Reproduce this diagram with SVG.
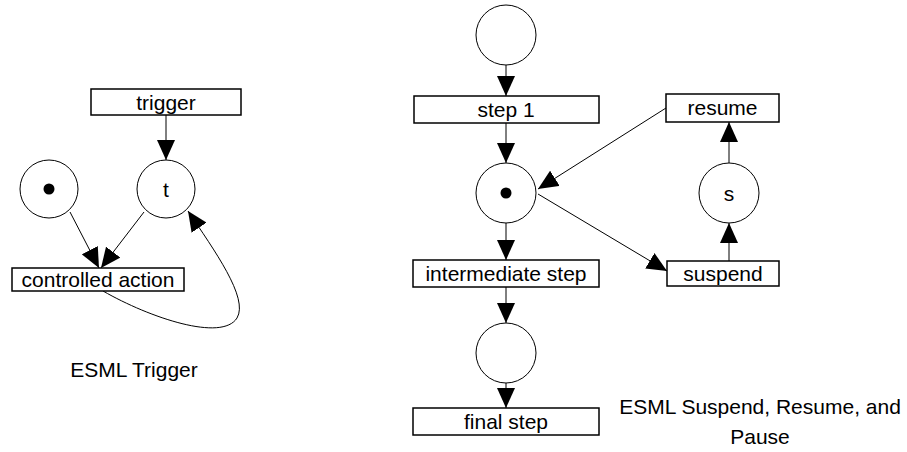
<svg xmlns="http://www.w3.org/2000/svg" width="907" height="452" viewBox="0 0 907 452">
<defs>
<style>
.box{fill:#fff;stroke:#000;stroke-width:1.5}
.place{fill:#fff;stroke:#000;stroke-width:1}
.tok{fill:#000}
.lbl{font-family:"Liberation Sans",Arial,sans-serif;font-size:21px;fill:#000;text-anchor:middle}
.edge{fill:none;stroke:#000;stroke-width:1;marker-end:url(#ah)}
</style>
<marker id="ah" markerUnits="userSpaceOnUse" viewBox="0 0 20 18" refX="20" refY="9" markerWidth="20" markerHeight="18" orient="auto">
<path d="M0,0 L20,9 L0,18 Z" fill="#000"/>
</marker>
</defs>
<rect width="907" height="452" fill="#fff"/>
<g id="connectors">
<line class="edge" x1="166" y1="115" x2="166" y2="160"/>
<line class="edge" x1="70" y1="212" x2="99" y2="268"/>
<line class="edge" x1="144" y1="212" x2="101" y2="268"/>
<path class="edge" d="M103,291 C150,318 222,342 237,318 C249,298 214,250 188,211"/>
<line class="edge" x1="506" y1="65" x2="506" y2="96"/>
<line class="edge" x1="506" y1="123" x2="506" y2="163"/>
<line class="edge" x1="666" y1="108" x2="538" y2="189"/>
<line class="edge" x1="538" y1="194" x2="667" y2="271"/>
<line class="edge" x1="506" y1="223" x2="506" y2="260"/>
<line class="edge" x1="506" y1="287" x2="506" y2="323"/>
<line class="edge" x1="506" y1="383" x2="506" y2="408"/>
<line class="edge" x1="729" y1="261" x2="729" y2="223"/>
<line class="edge" x1="729" y1="163" x2="729" y2="122"/>
</g>
<g id="trigger"><rect class="box" x="91" y="89" width="150" height="26"/><text class="lbl" x="166" y="109.5">trigger</text></g>
<g id="p_token_left"><circle class="place" cx="49" cy="189" r="29"/><circle class="tok" cx="49" cy="189" r="5.5"/></g>
<g id="p_t"><circle class="place" cx="166" cy="189" r="29"/><text class="lbl" x="166" y="196.5">t</text></g>
<g id="controlled_action"><rect class="box" x="12" y="268" width="172" height="23"/><text class="lbl" x="98" y="287">controlled action</text></g>
<g id="label_trigger"><text class="lbl" x="134" y="377">ESML Trigger</text></g>
<g id="p_start"><circle class="place" cx="506" cy="35" r="30"/></g>
<g id="step1"><rect class="box" x="414" y="96" width="185" height="27"/><text class="lbl" x="506" y="117">step 1</text></g>
<g id="p_mid"><circle class="place" cx="506" cy="193" r="30"/><circle class="tok" cx="506" cy="193" r="5.5"/></g>
<g id="intermediate"><rect class="box" x="413" y="260" width="186" height="27"/><text class="lbl" x="506" y="281">intermediate step</text></g>
<g id="p_end"><circle class="place" cx="506" cy="353" r="30"/></g>
<g id="final"><rect class="box" x="413" y="408" width="186" height="27"/><text class="lbl" x="506" y="429">final step</text></g>
<g id="resume"><rect class="box" x="666" y="94" width="113" height="28"/><text class="lbl" x="722.5" y="115">resume</text></g>
<g id="p_s"><circle class="place" cx="729" cy="193" r="30"/><text class="lbl" x="729" y="200.5">s</text></g>
<g id="suspend"><rect class="box" x="667" y="261" width="112" height="25"/><text class="lbl" x="723" y="281">suspend</text></g>
<g id="label_suspend"><text class="lbl" x="760" y="414">ESML Suspend, Resume, and</text><text class="lbl" x="760" y="444">Pause</text></g>
</svg>
